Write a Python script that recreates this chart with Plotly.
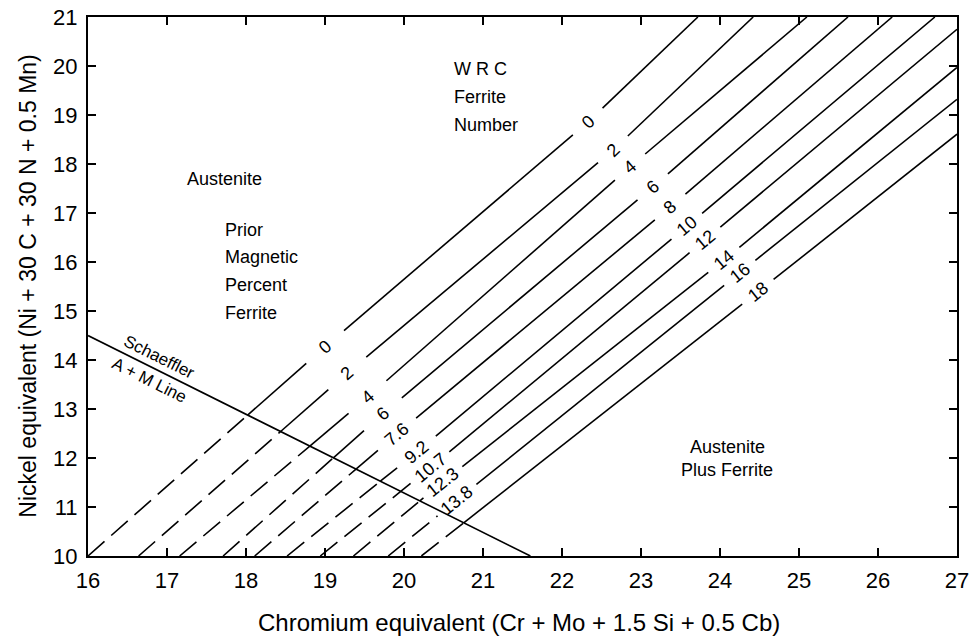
import math
import plotly.graph_objects as go

# ---------------- data ----------------
wrc_ferrite_number = ["0", "2", "4", "6", "8", "10", "12", "14", "16", "18"]
magnetic_percent = ["0", "2", "4", "6", "7.6", "9.2", "10.7", "12.3", "13.8", ""]
# Cr-equivalent where each iso-ferrite line leaves the Ni-equivalent = 10 axis
cr_at_ni10 = [16.00, 16.64, 17.16, 17.71, 18.11, 18.52, 18.94, 19.36, 19.80, 20.22]
# points on each line where the magnetic-percent label sits
mag_label_cr = [19.00, 19.28, 19.54, 19.73, 19.91, 20.16, 20.33, 20.49, 20.67, None]
mag_label_ni = [14.27, 13.73, 13.24, 12.90, 12.49, 12.12, 11.80, 11.51, 11.14, None]
# points on each line where the WRC ferrite-number label sits
wrc_label_cr = [22.33, 22.65, 22.86, 23.15, 23.37, 23.58, 23.81, 24.05, 24.25, 24.48]
wrc_label_ni = [18.86, 18.29, 17.94, 17.53, 17.12, 16.73, 16.45, 16.04, 15.78, 15.39]
# where each line leaves the chart (top or right edge)
end_cr = [23.72, 24.42, 25.10, 25.62, 26.18, 26.72, 27.0, 27.0, 27.0, 27.0]
end_ni = [21.0, 21.0, 21.0, 21.0, 21.0, 21.0, 20.75, 19.97, 19.32, 18.61]
# Schaeffler A + M line
schaeffler_cr = [16.0, 21.6]
schaeffler_ni = [14.5, 10.0]
x_ticks = list(range(16, 28))
y_ticks = list(range(10, 22))

# ---------------- layout geometry ----------------
W, H = 971, 639
ML, MR, MT, MB = 88, 14, 17, 83
XR = [16, 27]
YR = [10, 21]
SX = (W - ML - MR) / (XR[1] - XR[0])   # px per x unit
SY = (H - MT - MB) / (YR[1] - YR[0])   # px per y unit
GAP_MAG = 25   # half-gap (px) around magnetic labels
GAP_WRC = 20   # half-gap (px) around WRC labels
FONT = "Liberation Sans, Arial, Helvetica, sans-serif"


def toward(P, Q, d):
    dx = (Q[0] - P[0]) * SX
    dy = (Q[1] - P[1]) * SY
    t = d / math.hypot(dx, dy)
    return (P[0] + t * (Q[0] - P[0]), P[1] + t * (Q[1] - P[1]))


def intersect(P, Q, A, C):
    r = (Q[0] - P[0], Q[1] - P[1])
    s = (C[0] - A[0], C[1] - A[1])
    den = r[0] * s[1] - r[1] * s[0]
    if den == 0:
        return None
    qp = (A[0] - P[0], A[1] - P[1])
    t = (qp[0] * s[1] - qp[1] * s[0]) / den
    u = (qp[0] * r[1] - qp[1] * r[0]) / den
    if 0 <= t <= 1 and 0 <= u <= 1:
        return (P[0] + t * r[0], P[1] + t * r[1])
    return None


def angle(P, Q):
    return -math.degrees(math.atan2((Q[1] - P[1]) * SY, (Q[0] - P[0]) * SX))


SA = (schaeffler_cr[0], schaeffler_ni[0])
SC = (schaeffler_cr[1], schaeffler_ni[1])

solid_x, solid_y, dash_x, dash_y = [], [], [], []
annotations = []


def add(xs, ys, P, Q):
    xs += [P[0], Q[0], None]
    ys += [P[1], Q[1], None]


for i in range(len(cr_at_ni10)):
    B = (cr_at_ni10[i], YR[0])
    Wp = (wrc_label_cr[i], wrc_label_ni[i])
    E = (end_cr[i], end_ni[i])
    has_mag = mag_label_cr[i] is not None
    if has_mag:
        M = (mag_label_cr[i], mag_label_ni[i])
        lo = toward(M, B, GAP_MAG)
    else:
        lo = toward(Wp, B, GAP_WRC)
    hit = intersect(B, lo, SA, SC)
    if hit:
        add(dash_x, dash_y, B, hit)
        add(solid_x, solid_y, hit, lo)
    else:
        add(dash_x, dash_y, B, lo)
    if has_mag:
        hi = toward(M, Wp, GAP_MAG)
        wlo = toward(Wp, M, GAP_WRC)
        add(solid_x, solid_y, hi, wlo)
        annotations.append(dict(x=M[0], y=M[1], text=magnetic_percent[i],
                                textangle=angle(B, Wp), showarrow=False,
                                xref="x", yref="y", xanchor="center", yanchor="middle",
                                font=dict(size=18, family=FONT, color="black")))
    whi = toward(Wp, E, GAP_WRC)
    add(solid_x, solid_y, whi, E)
    annotations.append(dict(x=Wp[0], y=Wp[1], text=wrc_ferrite_number[i],
                            textangle=angle(Wp, E), showarrow=False,
                            xref="x", yref="y", xanchor="center", yanchor="middle",
                            font=dict(size=18, family=FONT, color="black")))

fig = go.Figure()
fig.add_trace(go.Scatter(x=dash_x, y=dash_y, mode="lines",
                         line=dict(color="black", width=1.6, dash="22px,9px"),
                         hoverinfo="skip"))
fig.add_trace(go.Scatter(x=solid_x, y=solid_y, mode="lines",
                         line=dict(color="black", width=1.6), hoverinfo="skip"))
fig.add_trace(go.Scatter(x=schaeffler_cr, y=schaeffler_ni, mode="lines",
                         line=dict(color="black", width=1.6), hoverinfo="skip"))


# region labels
def text(x, y, s, size=18, anchor="left", ang=0):
    annotations.append(dict(x=x, y=y, text=s, showarrow=False, xref="x", yref="y",
                            xanchor=anchor, yanchor="middle", textangle=ang,
                            font=dict(size=size, family=FONT, color="black")))


text(20.61, 19.94, "W R C")
text(20.61, 19.37, "Ferrite")
text(20.61, 18.80, "Number")
text(17.23, 17.69, "Austenite")
text(17.71, 16.65, "Prior")
text(17.71, 16.10, "Magnetic")
text(17.71, 15.53, "Percent")
text(17.71, 14.96, "Ferrite")
text(24.09, 12.22, "Austenite", anchor="center")
text(24.09, 11.76, "Plus Ferrite", anchor="center")
sch_ang = angle(SA, SC)
text(16.91, 14.06, "Schaeffler", size=17, anchor="center", ang=sch_ang)
text(16.78, 13.59, "A + M Line", size=17, anchor="center", ang=sch_ang)

# axis titles
annotations.append(dict(x=0.496, y=-0.1225, xref="paper", yref="paper", showarrow=False,
                        text="Chromium equivalent (Cr + Mo + 1.5 Si + 0.5 Cb)",
                        xanchor="center", yanchor="middle",
                        font=dict(size=24, family=FONT, color="black")))
annotations.append(dict(x=-0.070, y=0.50, xref="paper", yref="paper", showarrow=False,
                        text="Nickel equivalent (Ni + 30 C + 30 N + 0.5 Mn)",
                        textangle=-90, xanchor="center", yanchor="middle",
                        font=dict(size=23, family=FONT, color="black")))

axis_common = dict(showline=True, linecolor="black", linewidth=2, mirror="ticks",
                   ticks="inside", ticklen=8, tickwidth=1.5, tickcolor="black",
                   showgrid=False, zeroline=False, automargin=False,
                   tickfont=dict(size=22, family=FONT, color="black"))
fig.update_layout(
    template="none",
    width=W, height=H,
    margin=dict(l=ML, r=MR, t=MT, b=MB, autoexpand=False),
    plot_bgcolor="white", paper_bgcolor="white",
    showlegend=False,
    xaxis=dict(range=XR, tickvals=x_ticks, ticktext=[str(v) for v in x_ticks],
               ticklabelstandoff=4, **axis_common),
    yaxis=dict(range=YR, tickvals=y_ticks, ticktext=[str(v) for v in y_ticks],
               ticklabelstandoff=4, **axis_common),
    annotations=annotations,
)
fig.write_html("out.html", config={"displayModeBar": False},
               post_script="document.body.style.margin='0px';")
